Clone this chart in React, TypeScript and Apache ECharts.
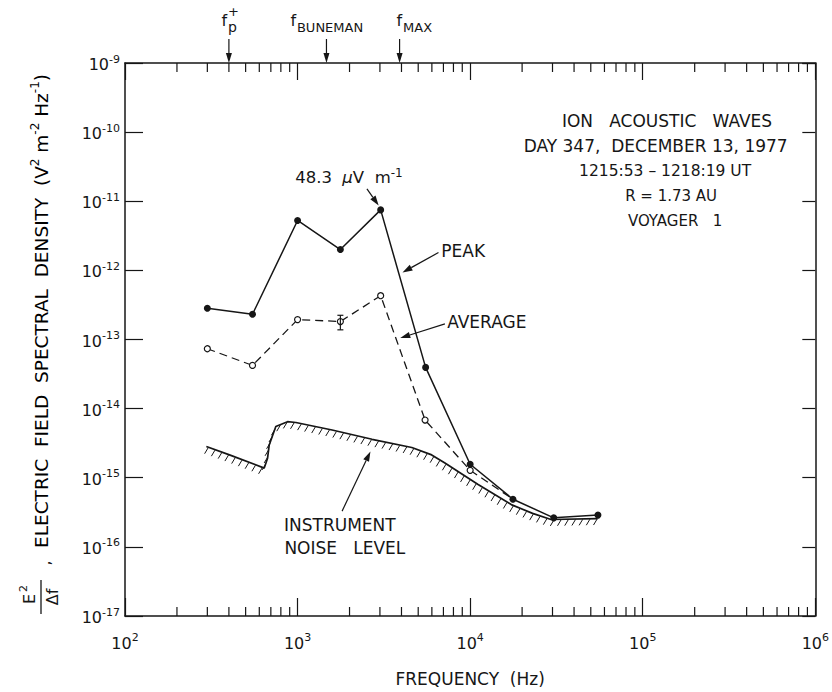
import React, { useEffect, useRef } from "react";
import * as echarts from "echarts";

// ---- axes ----
const xMin = 100;
const xMax = 1e6;
const yMin = 1e-17;
const yMax = 1e-9;
const xDecades = [100, 1000, 10000, 100000];
const minorMultipliers = [2, 3, 4, 5, 6, 7, 8, 9];

// ---- data (Hz, V^2 m^-2 Hz^-1) ----
const peakFreq = [300, 548, 1000, 1770, 3030, 5520, 10000, 17700, 30500, 55000];
const peakDensity = [2.83e-13, 2.32e-13, 5.27e-12, 2.0e-12, 7.5e-12, 3.95e-14, 1.57e-15, 4.89e-16, 2.63e-16, 2.88e-16];

const avgFreq = [300, 548, 1000, 1770, 3030, 5480, 10000, 17700];
const avgDensity = [7.35e-14, 4.22e-14, 1.94e-13, 1.82e-13, 4.3e-13, 6.84e-15, 1.28e-15, 4.89e-16];

const errFreq = [1770];
const errLow = [1.38e-13];
const errHigh = [2.24e-13];

const noiseFreq = [296, 403, 641, 670, 685, 748, 874, 977, 1585, 2700, 4590, 5985, 7140, 11120, 17300, 23000, 29400, 54700];
const noiseDensity = [2.83e-15, 2.14e-15, 1.38e-15, 1.92e-15, 2.98e-15, 5.5e-15, 6.47e-15, 6.3e-15, 4.9e-15, 3.6e-15, 2.74e-15, 2.14e-15, 1.63e-15, 8.0e-16, 4.09e-16, 3.05e-16, 2.49e-16, 2.57e-16];

// ---- characteristic frequency markers ----
const markerFreqs = [400, 1470, 3900];
const markerSubs = ["p", "BUNEMAN", "MAX"];
const markerSups = ["+", "", ""];

// ---- annotation arrows (data coords) ----
const arrowTails = [[2523, 1.51e-11], [6550, 1.81e-12], [7140, 1.68e-13], [1811, 3.29e-16]];
const arrowHeads = [[2951, 8.67e-12], [4055, 9.33e-13], [3936, 1.05e-13], [2643, 2.4e-15]];

const infoLines = ["ION   ACOUSTIC   WAVES", "DAY 347,  DECEMBER 13, 1977", "1215:53 – 1218:19 UT", "R = 1.73 AU", "VOYAGER   1"];
const infoFreq = [138300, 118800, 134800, 146000, 153900];
const infoDensity = [1.45e-10, 6.25e-11, 2.73e-11, 1.18e-11, 5.15e-12];
const infoSizes = [17, 17, 15.5, 15, 15];

const FONT = "DejaVu Sans";
const INK = "#161616";

const ln = (x1: number, y1: number, x2: number, y2: number, w = 1) => ({
  type: "line",
  shape: { x1, y1, x2, y2 },
  style: { stroke: INK, lineWidth: w },
  silent: true,
});

export default function App() {
  const ref = useRef<HTMLDivElement>(null);
  useEffect(() => {
    document.body.style.margin = "0";
    const chart = echarts.init(ref.current!, null, { renderer: "svg" });

    const richNum = {
      b: { fontSize: 16, fontFamily: FONT, color: INK, lineHeight: 19, verticalAlign: "bottom" },
      s: { fontSize: 11, fontFamily: FONT, color: INK, lineHeight: 19, verticalAlign: "top" },
    };
    const powLabel = (v: number) => {
      const e = Math.round(Math.log10(v));
      return `{b|10}{s|${e < 0 ? "-" + -e : e}}`;
    };

    const axisLineStyle = { lineStyle: { color: INK, width: 1.5 } };

    chart.setOption({
      animation: false,
      backgroundColor: "#ffffff",
      grid: { left: 125, right: 13, top: 63, bottom: 73 },
      xAxis: [
        {
          type: "log",
          logBase: 10,
          min: xMin,
          max: xMax,
          splitNumber: 4,
          position: "bottom",
          axisLine: axisLineStyle,
          axisTick: { inside: true, length: 18, lineStyle: { color: INK, width: 1.2 } },
          splitLine: { show: false },
          axisLabel: { formatter: powLabel, rich: richNum, margin: 16 },
          name: "FREQUENCY  (Hz)",
          nameLocation: "middle",
          nameGap: 54,
          nameTextStyle: { fontFamily: FONT, fontSize: 17, color: INK },
        },
        {
          type: "log",
          logBase: 10,
          min: xMin,
          max: xMax,
          splitNumber: 4,
          position: "top",
          axisLine: axisLineStyle,
          axisTick: { inside: true, length: 17, lineStyle: { color: INK, width: 1.2 } },
          splitLine: { show: false },
          axisLabel: { show: false },
        },
      ],
      yAxis: [
        {
          type: "log",
          logBase: 10,
          min: yMin,
          max: yMax,
          splitNumber: 8,
          position: "left",
          axisLine: axisLineStyle,
          axisTick: { inside: true, length: 18, lineStyle: { color: INK, width: 1.2 } },
          splitLine: { show: false },
          axisLabel: { formatter: powLabel, rich: richNum, margin: 5 },
        },
        {
          type: "log",
          logBase: 10,
          min: yMin,
          max: yMax,
          splitNumber: 8,
          position: "right",
          axisLine: axisLineStyle,
          axisTick: { inside: true, length: 13, lineStyle: { color: INK, width: 1.2 } },
          splitLine: { show: false },
          axisLabel: { show: false },
        },
      ],
      series: [
        {
          name: "minor ticks",
          type: "custom",
          coordinateSystem: "cartesian2d",
          silent: true,
          data: [[xMin, yMin]],
          renderItem: (params: any, api: any) => {
            const yb = api.coord([xMin, yMin])[1];
            const yt = api.coord([xMin, yMax])[1];
            const children: any[] = [];
            xDecades.forEach((d) =>
              minorMultipliers.forEach((m) => {
                const x = api.coord([d * m, yMin])[0];
                children.push(ln(x, yb, x, yb - 9, 1.2));
                children.push(ln(x, yt, x, yt + 9, 1.2));
              })
            );
            return { type: "group", children };
          },
        },
        {
          name: "Instrument noise level",
          type: "line",
          data: noiseFreq.map((f, i) => [f, noiseDensity[i]]),
          showSymbol: false,
          symbol: "none",
          lineStyle: { color: INK, width: 1.7 },
          silent: true,
        },
        {
          name: "noise hatch",
          type: "custom",
          coordinateSystem: "cartesian2d",
          silent: true,
          data: [[noiseFreq[0], noiseDensity[0]]],
          renderItem: (params: any, api: any) => {
            const pts = noiseFreq.map((f, i) => api.coord([f, noiseDensity[i]]));
            const children: any[] = [];
            const step = 7.2;
            let carry = 2;
            for (let i = 0; i < pts.length - 1; i++) {
              const [x0, y0] = pts[i];
              const [x1, y1] = pts[i + 1];
              const len = Math.hypot(x1 - x0, y1 - y0);
              let t = carry;
              while (t <= len) {
                const x = x0 + ((x1 - x0) * t) / len;
                const y = y0 + ((y1 - y0) * t) / len;
                children.push(ln(x, y + 0.5, x - 3.6, y + 6.5, 1));
                t += step;
              }
              carry = t - len;
            }
            return { type: "group", children };
          },
        },
        {
          name: "Peak",
          type: "line",
          data: peakFreq.map((f, i) => [f, peakDensity[i]]),
          symbol: "circle",
          symbolSize: 7,
          itemStyle: { color: INK },
          lineStyle: { color: INK, width: 1.5 },
          z: 5,
        },
        {
          name: "Average",
          type: "line",
          data: avgFreq.map((f, i) =>
            i === avgFreq.length - 1 ? { value: [f, avgDensity[i]], symbol: "none" } : [f, avgDensity[i]]
          ),
          symbol: "circle",
          symbolSize: 6,
          itemStyle: { color: "#ffffff", borderColor: INK, borderWidth: 1.2 },
          lineStyle: { color: INK, width: 1.3, type: [8, 5] },
          z: 4,
        },
        {
          name: "error bar",
          type: "custom",
          coordinateSystem: "cartesian2d",
          silent: true,
          encode: { x: 0, y: [1, 2] },
          data: errFreq.map((f, i) => [f, errLow[i], errHigh[i]]),
          renderItem: (params: any, api: any) => {
            const lo = api.coord([api.value(0), api.value(1)]);
            const hi = api.coord([api.value(0), api.value(2)]);
            return {
              type: "group",
              children: [
                ln(lo[0], lo[1], hi[0], hi[1], 1.2),
                ln(lo[0] - 3, lo[1], lo[0] + 3, lo[1], 1.2),
                ln(hi[0] - 3, hi[1], hi[0] + 3, hi[1], 1.2),
              ],
            };
          },
          z: 6,
        },
      ],
    });

    // ---- annotations, positioned through the axes ----
    const P = (x: number, y: number) =>
      chart.convertToPixel({ xAxisIndex: 0, yAxisIndex: 0 }, [x, y]) as number[];

    const arrow = (t: number[], h: number[], headLen = 10, headW = 3.2) => {
      const dx = h[0] - t[0];
      const dy = h[1] - t[1];
      const L = Math.hypot(dx, dy);
      const ux = dx / L;
      const uy = dy / L;
      const bx = h[0] - ux * headLen;
      const by = h[1] - uy * headLen;
      return [
        ln(t[0], t[1], bx, by, 1.2),
        {
          type: "polygon",
          shape: { points: [[h[0], h[1]], [bx - uy * headW, by + ux * headW], [bx + uy * headW, by - ux * headW]] },
          style: { fill: INK },
          silent: true,
        },
      ];
    };

    const txt = (x: number, y: number, text: string, opts: any = {}) => ({
      type: "text",
      x,
      y,
      silent: true,
      style: {
        text,
        fill: INK,
        font: `${opts.size || 17}px "${FONT}"`,
        textAlign: opts.align || "left",
        textVerticalAlign: "middle",
        rich: opts.rich,
      },
    });

    const g: any[] = [];
    arrowTails.forEach((t, i) => {
      g.push(...arrow(P(t[0], t[1]), P(arrowHeads[i][0], arrowHeads[i][1])));
    });

    const topY = P(xMin, yMax)[1];
    const markerDx = [-7.5, -36, -3];
    markerFreqs.forEach((f, i) => {
      const x = P(f, yMax)[0];
      g.push(...arrow([x, topY - 24], [x, topY], 10, 3));
      g.push(txt(x + markerDx[i], 20, "f", { size: 16 }));
      g.push(txt(x + markerDx[i] + 6.5, 27, markerSubs[i], { size: markerSubs[i].length > 1 ? 13 : 14 }));
      if (markerSups[i]) g.push(txt(x + markerDx[i] + 6.5, 11, markerSups[i], { size: 13 }));
    });

    const mkRich = (big: number, small: number) => ({
      s: { fontSize: small, fontFamily: FONT, color: INK, lineHeight: big + 3, verticalAlign: "top" },
      m: { fontSize: big, fontFamily: FONT, color: INK, lineHeight: big + 3, verticalAlign: "bottom" },
      g: { fontSize: big, fontFamily: FONT, color: INK, fontStyle: "italic", lineHeight: big + 3, verticalAlign: "bottom" },
    });
    const mu = P(968, 2.12e-11);
    g.push(txt(mu[0], mu[1] - 2, "{m|48.3  }{g|μ}{m|V  m}{s|-1}", { rich: mkRich(16.5, 12) }));
    const pk = P(6810, 1.89e-12);
    g.push(txt(pk[0], pk[1], "PEAK"));
    const av = P(7360, 1.8e-13);
    g.push(txt(av[0], av[1], "AVERAGE"));
    const in1 = P(1758, 2.09e-16);
    g.push(txt(in1[0], in1[1], "INSTRUMENT", { align: "center" }));
    const in2 = P(1879, 9.75e-17);
    g.push(txt(in2[0], in2[1], "NOISE   LEVEL", { align: "center" }));

    infoLines.forEach((s, i) => {
      const p = P(infoFreq[i], infoDensity[i]);
      g.push(txt(p[0], p[1], s, { align: "center", size: infoSizes[i] }));
    });

    // y-axis title, rotated
    g.push({
      type: "group",
      x: 40,
      y: 620,
      rotation: Math.PI / 2,
      silent: true,
      children: [
        {
          type: "text",
          x: 72,
          y: 0,
          style: {
            text: "{m|ELECTRIC  FIELD  SPECTRAL  DENSITY  (V}{s|2}{m| m}{s|-2}{m| Hz}{s|-1}{m|)}",
            textAlign: "left",
            textVerticalAlign: "middle",
            rich: mkRich(18.5, 12),
          },
        },
        { type: "text", x: 21, y: -3, style: { text: "E", font: `16px "${FONT}"`, fill: INK, textAlign: "center", textVerticalAlign: "bottom" } },
        { type: "text", x: 28, y: -11, style: { text: "2", font: `11px "${FONT}"`, fill: INK, textAlign: "left", textVerticalAlign: "bottom" } },
        { type: "line", shape: { x1: 6, y1: 1, x2: 40, y2: 1 }, style: { stroke: INK, lineWidth: 1.3 } },
        { type: "text", x: 23, y: 4, style: { text: "Δf", font: `16px "${FONT}"`, fill: INK, textAlign: "center", textVerticalAlign: "top" } },
        { type: "text", x: 57, y: 4, style: { text: ",", font: `16px "${FONT}"`, fill: INK, textAlign: "center", textVerticalAlign: "middle" } },
      ],
    });

    chart.setOption({ graphic: g });

    return () => chart.dispose();
  }, []);
  return <div ref={ref} style={{ width: 832, height: 692 }} />;
}
